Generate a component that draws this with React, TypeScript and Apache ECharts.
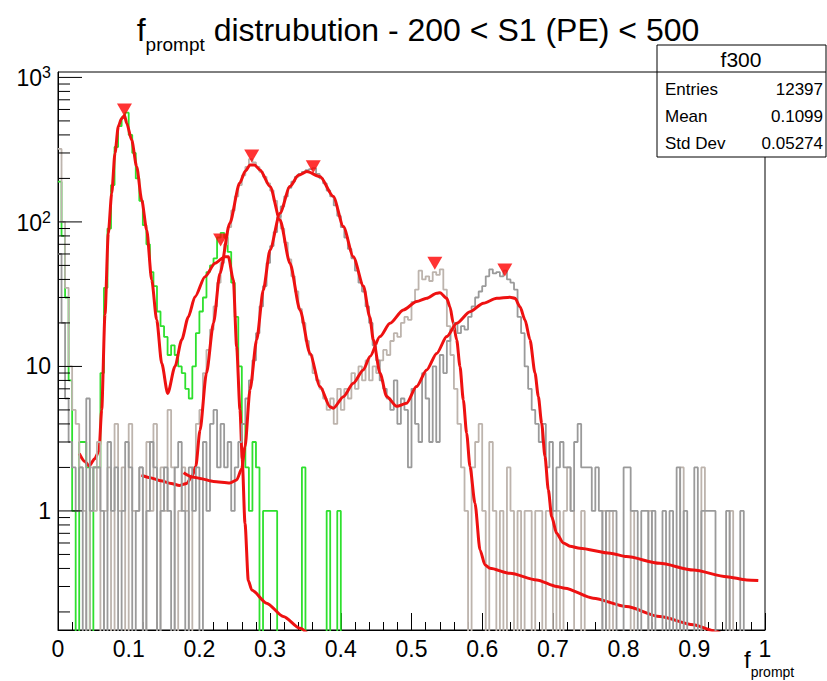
import React, { useEffect, useRef } from 'react';
import * as echarts from 'echarts';

const FONT_NAME = 'Liberation Sans';
const FONT = '"Liberation Sans", Arial, Helvetica, sans-serif';
const BIN_WIDTH = 0.005;
const ZERO_DRAW = 0.01; // empty bins are drawn below the axis floor, like ROOT on a log scale

// f300 histogram (green), bins of 0.005 starting at 0
const greenCounts = [
  190, 80, 30, 8, 1, 0, 3, 3, 2, 0,
  2, 2, 9, 35, 90, 180, 330, 460, 530, 570,
  400, 300, 200, 140, 95, 70, 45, 36, 24, 19,
  16, 12, 14, 12, 10, 9, 7, 6, 10, 17,
  24, 30, 45, 50, 56, 78, 84, 78, 62, 38,
  22, 10, 4, 2, 1, 3, 2, 0, 1, 1,
  1, 1, 0, 0, 0, 0, 0, 0, 0, 2,
  0, 0, 0, 0, 0, 0, 1, 0, 0, 1,
];

// light (warm grey) histogram
const lightCounts = [
  320, 100, 35, 10, 5, 4, 2, 1, 0, 2,
  1, 3, 0, 1, 2, 0, 4, 1, 2, 0,
  4, 1, 1, 2, 0, 3, 1, 4, 0, 2,
  1, 5, 2, 0, 1, 2, 1, 0, 2, 4,
  5, 9, 13, 18, 26, 38, 52, 70, 92, 120,
  150, 180, 210, 240, 272, 258, 240, 222, 205, 185,
  165, 140, 112, 90, 72, 55, 42, 33, 25, 20,
  15, 12, 9, 8, 7, 6, 5, 6, 4, 7,
  5, 7, 6, 9, 7, 10, 8, 11, 8, 10,
  9, 11, 13, 12, 15, 17, 16, 20, 22, 21,
  28, 34, 46, 40, 42, 39, 45, 43, 47, 34,
  19, 12, 7, 4, 2, 1, 0, 2, 3, 4,
  1, 0, 3, 1, 0, 1, 0, 2, 1, 0,
  1, 0, 1, 1, 0, 1, 1, 0, 1, 1,
  0, 1, 0, 1, 2, 1, 0, 0, 1, 0,
  0, 0, 0, 0, 1, 0, 1, 0, 0, 0,
  0, 0, 1, 0, 0, 0, 0, 1, 0, 0,
  0, 0, 0, 0, 0, 0, 2, 0, 0, 0,
  0, 0, 2, 0, 0, 0, 0, 0, 0, 0,
  1,
];

// dark grey histogram
const darkCounts = [
  60, 20, 6, 3, 2, 1, 2, 0, 6, 1,
  2, 2, 1, 0, 3, 1, 2, 0, 1, 3,
  2, 0, 1, 2, 0, 1, 3, 2, 0, 1,
  2, 1, 0, 2, 3, 1, 0, 2, 1, 2,
  0, 3, 1, 4, 5, 2, 4, 2, 3, 1,
  2, 3, 4, 6, 8, 11, 17, 26, 36, 52,
  68, 85, 108, 128, 150, 172, 190, 205, 215, 222,
  228, 232, 236, 215, 200, 185, 165, 150, 130, 110,
  92, 78, 65, 56, 46, 38, 33, 26, 20, 14,
  11, 8, 7, 6, 5, 8, 4, 6, 5, 2,
  7, 4, 3, 9, 6, 3, 10, 3, 12, 9,
  15, 18, 20, 17, 19, 18, 22, 26, 30, 33,
  36, 42, 47, 44, 45, 42, 46, 40, 38, 34,
  22, 17, 10, 7, 5, 4, 3, 4, 2, 3,
  1, 2, 3, 2, 2, 1, 3, 4, 2, 2,
  2, 1, 2, 1, 0, 1, 1, 1, 0, 0,
  2, 2, 1, 1, 0, 1, 1, 0, 1, 0,
  0, 1, 0, 1, 0, 2, 0, 1, 0, 0,
  2, 0, 1, 1, 1, 1, 0, 0, 0, 1,
  0, 0, 0, 1, 0,
];

// fitted functions, [x, y]
const fit1 = [
  [0.030, 2.5], [0.038, 2.2], [0.044, 2.05], [0.052, 2.3], [0.058, 2.6], [0.0618, 5.0],
  [0.0665, 23], [0.0711, 83], [0.076, 158], [0.0806, 299], [0.0853, 457], [0.0895, 515],
  [0.094, 545], [0.0972, 482], [0.1042, 369], [0.1113, 241], [0.1184, 142], [0.1255, 88],
  [0.1325, 39.7], [0.1396, 21], [0.1467, 10.5], [0.1552, 6.5], [0.1655, 10], [0.175, 15.3],
  [0.1843, 22], [0.1938, 30.4], [0.2079, 41.8], [0.2221, 51.8], [0.2362, 57.5], [0.2409, 57.5],
  [0.248, 39.7], [0.2527, 13.7], [0.2574, 5.0], [0.2605, 2.3], [0.2645, 0.82], [0.2692, 0.33],
  [0.274, 0.284], [0.295, 0.23], [0.3187, 0.186], [0.3423, 0.154], [0.36, 0.13],
];
const fit2 = [
  [0.118, 1.77], [0.13, 1.7], [0.145, 1.62], [0.16, 1.55], [0.172, 1.5], [0.182, 1.55],
  [0.19, 1.75], [0.195, 2.05], [0.2008, 3.6], [0.21, 9], [0.22, 20], [0.229, 44],
  [0.243, 98], [0.257, 186], [0.265, 225], [0.2716, 248], [0.278, 248], [0.2857, 229],
  [0.2999, 176], [0.314, 103], [0.3281, 51.8], [0.3423, 24.6], [0.3564, 12.3], [0.3706, 7.25],
  [0.3847, 5.27], [0.3894, 5.13], [0.4036, 6.18], [0.4177, 7.65], [0.4318, 9.46], [0.4413, 11.7],
  [0.4554, 16.1], [0.4696, 19.9], [0.4884, 24.6], [0.5073, 28.1], [0.5215, 29.6], [0.5356, 32.1],
  [0.5403, 32.4], [0.5498, 29.6], [0.5544, 25.9], [0.5591, 19.9], [0.5639, 15.3], [0.5686, 9.97],
  [0.5733, 5.86], [0.578, 3.45], [0.5827, 2.03], [0.5898, 1.13], [0.5969, 0.537], [0.604, 0.423],
  [0.611, 0.401], [0.6393, 0.37], [0.677, 0.333], [0.7053, 0.3], [0.717, 0.292], [0.757, 0.249],
  [0.804, 0.218], [0.851, 0.186], [0.8986, 0.163], [0.927, 0.1485], [0.94, 0.14],
];
const fit3 = [
  [0.1776, 1.84], [0.19, 1.72], [0.2008, 1.68], [0.2197, 1.6], [0.243, 1.56], [0.2528, 1.64],
  [0.26, 1.97], [0.2645, 2.78], [0.2716, 6.9], [0.281, 15.3], [0.2904, 33.8], [0.2999, 64],
  [0.314, 115], [0.328, 176], [0.34, 210], [0.352, 223], [0.3706, 206], [0.3894, 150],
  [0.4036, 93], [0.4177, 57.5], [0.432, 36], [0.441, 22], [0.446, 15.3], [0.4554, 9],
  [0.4649, 6.2], [0.479, 5.3], [0.493, 5.56], [0.507, 7.25], [0.5215, 9.46], [0.5356, 12.3],
  [0.5498, 16.1], [0.564, 19.9], [0.5827, 23.9], [0.6016, 27.4], [0.6205, 29.6], [0.6393, 30.1],
  [0.6464, 29.6], [0.6535, 25.9], [0.6605, 21], [0.6676, 15.3], [0.6747, 9], [0.6794, 6.2],
  [0.6841, 4.05], [0.6888, 2.38], [0.6935, 1.4], [0.6983, 0.91], [0.7053, 0.7], [0.7147, 0.6],
  [0.7242, 0.57], [0.738, 0.552], [0.781, 0.51], [0.804, 0.483], [0.851, 0.434], [0.8986, 0.39],
  [0.9458, 0.351], [0.974, 0.333], [0.9905, 0.33],
];

// peak markers found by the peak search
const peakX = [0.094, 0.230, 0.274, 0.361, 0.533, 0.632];
const peakY = [596, 75, 286, 241, 51.8, 46.5];

// axis ticks
const yMajorTicks = [1, 10, 100, 1000];
const yMinorTicks = [
  0.2, 0.3, 0.4, 0.5, 0.6, 0.7, 0.8, 0.9,
  2, 3, 4, 5, 6, 7, 8, 9,
  20, 30, 40, 50, 60, 70, 80, 90,
  200, 300, 400, 500, 600, 700, 800, 900,
];
const yMin = 0.15;
const yMax = 1090;

// texts
const titleBase = 'f';
const titleSub = 'prompt';
const titleRest = ' distrubution - 200 < S1 (PE) < 500';
const xTitleBase = 'f';
const xTitleSub = 'prompt';
const statsTitle = 'f300';
const statsLabels = ['Entries', 'Mean', 'Std Dev'];
const statsValues = ['12397', '0.1099', '0.05274'];

const toSteps = (counts: number[]) => {
  const pts: number[][] = counts.map((c, i) => [+(i * BIN_WIDTH).toFixed(4), c > 0 ? c : ZERO_DRAW]);
  pts.push([+(counts.length * BIN_WIDTH).toFixed(4), ZERO_DRAW]);
  return pts;
};

const measure = (text: string, size: number) => {
  const ctx = document.createElement('canvas').getContext('2d');
  if (!ctx) return text.length * size * 0.5;
  ctx.font = `${size}px "${FONT_NAME}"`;
  return ctx.measureText(text).width;
};

const txt = (text: string, x: number, y: number, size: number, align = 'left', z = 100) => ({
  type: 'text',
  x,
  y,
  z,
  silent: true,
  style: {
    text,
    fontSize: size,
    fontFamily: FONT,
    fill: '#000',
    align,
    verticalAlign: 'middle',
    textAlign: align,
    textVerticalAlign: 'middle',
  },
});

export default function App() {
  const ref = useRef<HTMLDivElement>(null);

  useEffect(() => {
    if (!ref.current) return;
    const chart = echarts.init(ref.current, undefined, { renderer: 'svg' });

    const histSeries = (name: string, counts: number[], color: string, z: number) => ({
      name,
      type: 'line',
      step: 'end',
      data: toSteps(counts),
      symbol: 'none',
      showSymbol: false,
      clip: true,
      z,
      lineStyle: { color, width: 1.8 },
      silent: true,
    });

    const fitSeries = (name: string, pts: number[][], z: number) => ({
      name,
      type: 'line',
      data: pts,
      symbol: 'none',
      showSymbol: false,
      smooth: 0.25,
      smoothMonotone: 'x',
      clip: true,
      z,
      lineStyle: { color: '#ee1111', width: 3 },
      silent: true,
    });

    const yTickData = [
      ...yMajorTicks.map((v) => [0, v, 24]),
      ...yMinorTicks.map((v) => [0, v, 12]),
    ];

    // title: f with subscript "prompt", centred
    const tMain = 32;
    const tSub = 19;
    const wF = measure(titleBase, tMain);
    const wP = measure(titleSub, tSub);
    const wR = measure(titleRest, tMain);
    const tx0 = 418 - (wF + wP + wR) / 2;

    // x axis title
    const xMain = 24;
    const xSub = 14;
    const xwF = measure(xTitleBase, xMain);

    const statsChildren: any[] = [
      { type: 'rect', shape: { x: 657, y: 45, width: 169, height: 112 }, style: { fill: '#fff', stroke: '#000', lineWidth: 1 } },
      { type: 'line', shape: { x1: 657, y1: 72, x2: 826, y2: 72 }, style: { stroke: '#000', lineWidth: 1 } },
      txt(statsTitle, 741, 59, 21, 'center'),
    ];
    statsLabels.forEach((lab, i) => {
      const y = 89 + i * 27;
      statsChildren.push(txt(lab, 665, y, 17, 'left'));
      statsChildren.push(txt(statsValues[i], 823, y, 17, 'right'));
    });

    chart.setOption({
      animation: false,
      backgroundColor: '#fff',
      grid: {
        left: 58, right: 62, top: 72, bottom: 51,
        show: true, borderColor: '#000', borderWidth: 1, backgroundColor: 'transparent',
        containLabel: false,
        outerBoundsMode: 'none',
      },
      xAxis: {
        type: 'value',
        min: 0,
        max: 1,
        interval: 0.1,
        splitLine: { show: false },
        axisLine: { show: true, onZero: false, lineStyle: { color: '#000', width: 1 } },
        axisTick: { show: true, inside: true, length: 17, lineStyle: { color: '#000', width: 1 } },
        minorTick: { show: true, splitNumber: 5, length: 8, lineStyle: { color: '#000', width: 1 } },
        axisLabel: {
          color: '#000', fontSize: 23, fontFamily: FONT, margin: 7,
          formatter: (v: number) => String(+v.toFixed(1)),
        },
      },
      yAxis: {
        type: 'log',
        logBase: 10,
        min: yMin,
        max: yMax,
        splitLine: { show: false },
        axisLine: { show: true, onZero: false, lineStyle: { color: '#000', width: 1 } },
        axisTick: { show: false },
        minorTick: { show: false },
        axisLabel: {
          color: '#000', fontSize: 23, fontFamily: FONT, margin: 7,
          formatter: (v: number) => {
            if (Math.abs(v - 1000) < 1e-6) return '{b|10}{s|3}';
            if (Math.abs(v - 100) < 1e-6) return '{b|10}{s|2}';
            if (Math.abs(v - 10) < 1e-6) return '10';
            if (Math.abs(v - 1) < 1e-9) return '1';
            return '';
          },
          rich: {
            b: { fontSize: 23, fontFamily: FONT, color: '#000', lineHeight: 25, verticalAlign: 'bottom' },
            s: { fontSize: 16, fontFamily: FONT, color: '#000', lineHeight: 16, verticalAlign: 'top' },
          },
        },
      },
      series: [
        histSeries('f300', greenCounts, '#2ee02e', 2),
        fitSeries('fit1', fit1, 3),
        histSeries('light', lightCounts, '#bdb4ad', 4),
        fitSeries('fit2', fit2, 5),
        histSeries('dark', darkCounts, '#9a9a9a', 6),
        fitSeries('fit3', fit3, 7),
        {
          name: 'peaks',
          type: 'scatter',
          data: peakX.map((x, i) => [x, peakY[i]]),
          symbol: 'triangle',
          symbolRotate: 180,
          symbolSize: [15, 13],
          itemStyle: { color: '#ff0000' },
          z: 8,
          silent: true,
        },
        {
          name: 'yticks',
          type: 'custom',
          data: yTickData,
          encode: { x: 0, y: 1 },
          clip: false,
          z: 10,
          silent: true,
          renderItem: (params: any, api: any) => {
            const p = api.coord([api.value(0), api.value(1)]);
            const len = api.value(2);
            return {
              type: 'line',
              shape: { x1: p[0], y1: p[1], x2: p[0] + len, y2: p[1] },
              style: { stroke: '#000', lineWidth: 1 },
            };
          },
        },
      ],
      graphic: [
        { type: 'group', z: 100, children: statsChildren },
        txt(titleBase, tx0, 30, tMain, 'left'),
        txt(titleSub, tx0 + wF, 44, tSub, 'left'),
        txt(titleRest, tx0 + wF + wP, 30, tMain, 'left'),
        txt(xTitleBase, 744, 659, xMain, 'left'),
        txt(xTitleSub, 744 + xwF, 672, xSub, 'left'),
      ],
    });

    return () => chart.dispose();
  }, []);

  return (
    <div
      ref={ref}
      style={{ position: 'fixed', left: 0, top: 0, width: 827, height: 681, background: '#fff' }}
    />
  );
}
